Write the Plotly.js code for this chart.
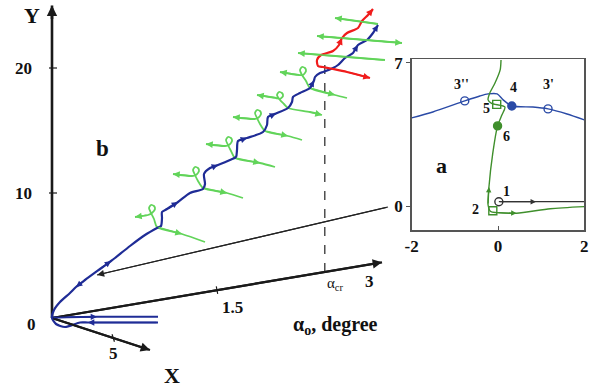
<!DOCTYPE html>
<html><head><meta charset="utf-8">
<script src="https://cdn.plot.ly/plotly-3.0.1.min.js"></script>
<style>html,body{margin:0;padding:0;background:#fff}#plot{width:616px;height:389px}</style>
</head><body><div id="plot"></div>
<script>
// ---------- Panel b (pseudo-3D): horizontal projection coordinate h, vertical = Y ----------
const Y_MAX = 25.0;
const Y_TICKS = [10, 20];
const ALPHA_MAX = 3;
const ALPHA_TICKS = [1.5];
const ALPHA_CR = 2.48;
const ALPHA_CR_TOP_Y = 20.5;
const X_MAX = 8;
const X_TICKS = [5];
const ALPHA_DIR = [1.1, 1.485];     // projection of one alpha unit
const X_DIR = [0.1225, -0.32];      // projection of one X unit

// blue trajectory
const BLUE_H = [1.06,0.36,0.28,0.13,0.04,0,0.02,0.08,0.18,0.24,0.33,0.48,0.59,0.63,0.78,0.93,1.05,1.09,1.10,1.10,1.15,1.26,1.38,1.51,1.53,1.52,1.58,1.66,1.78,1.84,1.85,1.86,1.95,2.11,2.15,2.16,2.24,2.36,2.40,2.41,2.48,2.58,2.62,2.63,2.68,2.71,2.81,2.86,2.93,3.01,3.06,3.15,3.21,3.26];
const BLUE_Y = [-0.36,-0.36,-0.36,-0.72,-0.48,0,0.64,1.28,2.0,2.48,3.04,3.92,4.56,4.8,5.76,6.64,7.2,7.36,8.0,8.48,8.72,9.28,10.0,10.32,10.72,11.52,12.0,12.24,12.64,12.88,13.44,14.16,14.4,14.88,15.44,16.08,16.36,16.8,17.28,17.68,18.0,18.4,19.0,19.28,19.6,19.68,20.0,20.24,20.8,21.2,21.84,22.24,22.8,23.44];
const BLUE_ARROWS = [[1,1],[9,-1],[12,1],[21,1],[27,1],[32,1],[36,1],[42,1],[50,1],[53,1]];
const BLUE2_H = [0.0, 0.45, 1.06];
const BLUE2_Y = [0.04, 0.1, 0.1];
const BLUE2_ARROWS = [[1,1]];

// red trajectory (beyond alpha_cr)
const RED_H = [3.18,2.95,2.81,2.71,2.66,2.65,2.69,2.81,2.87,2.90,2.95,3.06,3.10,3.16,3.21];
const RED_Y = [19.2,19.68,19.92,20.08,20.16,20.64,21.04,21.36,21.84,22.4,22.8,23.2,23.76,24.24,24.72];
const RED_ARROWS = [[0,-1],[9,1],[14,1]];

// green trajectories in the cross-sections
const GREEN_H = [
  [0.83,0.96,1.00,1.03,1.02,0.99,0.97,0.99,1.02,1.05,1.30,1.53],
  [1.21,1.40,1.44,1.47,1.46,1.43,1.41,1.43,1.46,1.51,1.75,1.91],
  [1.54,1.73,1.77,1.80,1.79,1.76,1.74,1.76,1.79,1.83,2.08,2.23],
  [1.81,2.02,2.06,2.09,2.08,2.05,2.03,2.05,2.08,2.13,2.36,2.50],
  [2.05,2.24,2.28,2.31,2.30,2.27,2.25,2.28,2.32,2.36,2.58,2.70],
  [2.28,2.47,2.51,2.54,2.53,2.50,2.48,2.50,2.54,2.58,2.83,2.95],
  [2.46,3.33],
  [2.65,3.50],
  [2.83,3.26]
];
const GREEN_Y = [
  [8.08,8.24,8.40,8.72,8.96,9.04,8.80,8.40,7.92,7.28,6.72,6.08],
  [11.52,11.36,11.44,11.76,12.0,12.08,11.84,11.44,10.96,10.4,10.0,9.6],
  [13.92,13.76,13.84,14.16,14.4,14.48,14.24,13.84,13.36,12.8,12.4,12.08],
  [16.08,15.92,16.0,16.32,16.56,16.64,16.4,16.0,15.52,14.96,14.56,14.24],
  [17.84,17.6,17.52,17.76,18.0,18.08,17.84,17.44,17.12,16.8,16.48,16.24],
  [19.68,19.44,19.44,19.76,20.0,20.08,19.84,19.44,18.96,18.4,17.84,17.6],
  [21.2,20.64],
  [22.56,22.0],
  [24.0,23.52]
];
const GREEN_ARROWS = [
  [[0,-1],[10,1]],[[0,-1],[10,1]],[[0,-1],[10,1]],[[0,-1],[10,1]],[[0,-1],[11,1]],[[0,-1],[10,1]],
  [[0,-1]],[[0,-1],[1,1]],[[0,-1]]
];
// pointer from inset plane to the trajectory
const POINTER_H = [3.36, 0.45];
const POINTER_Y = [8.88, 3.44];

// ---------- Panel a (inset, X-Y plane) ----------
const A_X_TICKS = [-2, 0, 2];
const A_Y_TICKS = [0, 7];
const A_BLUE_X = [-2.0,-1.51,-0.77,-0.42,-0.23,-0.02,0.12,0.32,0.81,1.16,1.60,2.0];
const A_BLUE_Y = [4.32,4.61,5.15,5.39,5.49,5.49,5.20,4.90,4.85,4.76,4.51,4.22];
const A_GREEN_X = [0.07,0.05,-0.07,-0.19,-0.23,-0.15,0.16,0.09,-0.01,-0.12,-0.21,-0.23,-0.17,-0.03,0.43,1.21,2.0];
const A_GREEN_Y = [7.15,6.66,6.02,5.54,5.20,5.03,4.85,4.46,3.93,2.61,0.95,0.07,-0.25,-0.30,-0.33,-0.11,-0.01];
const A_GREEN_ARROWS = [[10,-1],[14,1]];
const A_BLACK_X = [0.02, 0.88, 2.0];
const A_BLACK_Y = [0.23, 0.23, 0.23];
const A_BLACK_ARROWS = [[1,1]];
const A_POINT_LABELS = ['1','2',"3''","3'",'4','5','6'];
const A_POINT_X = [0.02,-0.12,-0.77,1.16,0.32,-0.03,-0.01];
const A_POINT_Y = [0.23,-0.21,5.15,4.76,4.90,4.98,3.93];
const A_LABEL_X = [0.19,-0.53,-0.84,1.16,0.35,-0.26,0.19];
const A_LABEL_Y = [0.71,-0.17,5.93,5.93,5.78,4.80,3.39];

// ---------- styles ----------
const BLUE = '#1f2c96', RED = '#f01c1c', GREEN = '#62d45a', AXC = '#1a1a1a';
const A_BLUE = '#2a4aa6', A_GREEN = '#3f8f2c';
const SERIF = 'Liberation Serif';

const traces = [];
const ann = [];
function line(h, y, color, width, opts) {
  opts = opts || {};
  traces.push({x: h, y: y, xaxis: opts.xa || 'x', yaxis: opts.ya || 'y', mode: 'lines',
    line: {color: color, width: width, dash: opts.dash || 'solid', shape: opts.spline ? 'spline' : 'linear', smoothing: 0.7},
    hoverinfo: 'skip', cliponaxis: opts.clip !== false});
}
function arrows(h, y, specs, color, width, size, xr, yr) {
  specs.forEach(function (s) {
    const i = s[0], d = s[1];
    ann.push({x: h[i], y: y[i], ax: h[i - d], ay: y[i - d], xref: xr || 'x', yref: yr || 'y',
      axref: xr || 'x', ayref: yr || 'y', text: '', showarrow: true, arrowhead: 2,
      arrowsize: size, arrowwidth: width, arrowcolor: color, standoff: 0});
  });
}
function txt(t, x, y, size, opts) {
  opts = opts || {};
  ann.push({x: x, y: y, xref: opts.xr || 'x', yref: opts.yr || 'y', text: t, showarrow: false,
    xanchor: opts.xanchor || 'center', yanchor: 'middle', xshift: opts.xshift || 0, yshift: opts.yshift || 0,
    font: {family: SERIF, size: size, color: opts.color || '#111', weight: opts.bold === false ? 'normal' : 'bold'}});
}
const projA = a => [a * ALPHA_DIR[0], a * ALPHA_DIR[1]];
const projX = x => [x * X_DIR[0], x * X_DIR[1]];

// ----- panel b axes -----
line([0, 0], [0, Y_MAX], AXC, 2.6);
arrows([0, 0], [Y_MAX - 1.2, Y_MAX], [[1, 1]], AXC, 2.6, 0.8);
Y_TICKS.forEach(v => line([-0.03, 0.05], [v, v], AXC, 1.2));
const aEnd = projA(ALPHA_MAX);
line([0, aEnd[0]], [0, aEnd[1]], AXC, 2.2);
arrows([0, aEnd[0]], [0, aEnd[1]], [[1, 1]], AXC, 2.2, 0.85);
ALPHA_TICKS.forEach(v => { const p = projA(v); line([p[0] - 0.007, p[0] + 0.007], [p[1] + 0.3, p[1] - 0.3], AXC, 1.2); });
const xEnd = projX(X_MAX);
line([0, xEnd[0]], [0, xEnd[1]], AXC, 2.2);
arrows([0, xEnd[0]], [0, xEnd[1]], [[1, 1]], AXC, 2.2, 0.85);
X_TICKS.forEach(v => { const p = projX(v); line([p[0] - 0.012, p[0] + 0.012], [p[1] + 0.3, p[1] - 0.3], AXC, 1.2); });
const crP = projA(ALPHA_CR);
line([crP[0], crP[0]], [crP[1], ALPHA_CR_TOP_Y], '#333', 1.3, {dash: 'dash'});
// pointer
line(POINTER_H, POINTER_Y, '#222', 1.1);
arrows(POINTER_H, POINTER_Y, [[1, 1]], '#222', 1.1, 1.3);

// ----- panel b curves -----
GREEN_H.forEach((gh, k) => { line(gh, GREEN_Y[k], GREEN, 1.8, {spline: true}); });
line(BLUE_H, BLUE_Y, BLUE, 2.2, {spline: true});
line(BLUE2_H, BLUE2_Y, BLUE, 1.8);
line(RED_H, RED_Y, RED, 2.2, {spline: true});
GREEN_H.forEach((gh, k) => arrows(gh, GREEN_Y[k], GREEN_ARROWS[k], GREEN, 1.5, 0.9));
arrows(BLUE_H, BLUE_Y, BLUE_ARROWS, BLUE, 1.4, 0.9);
arrows(BLUE2_H, BLUE2_Y, BLUE2_ARROWS, BLUE, 1.4, 0.9);
arrows(RED_H, RED_Y, RED_ARROWS, RED, 1.5, 0.9);

// ----- panel b labels -----
txt('Y', -0.20, 24.24, 22);
txt('20', -0.18, 20, 17, {xanchor: 'right'});
txt('10', -0.18, 10, 17, {xanchor: 'right'});
txt('0', -0.14, -0.5, 17, {xanchor: 'right'});
txt('b', 0.50, 13.6, 23);
txt('X', 1.2, -4.56, 22);
const x5 = projX(X_TICKS[0]);
txt(String(X_TICKS[0]), x5[0], x5[1], 17, {yshift: -15});
const a15 = projA(ALPHA_TICKS[0]);
txt(String(ALPHA_TICKS[0]), a15[0], a15[1], 17, {xshift: 15, yshift: -17});
txt(String(ALPHA_MAX), aEnd[0], aEnd[1], 17, {xshift: -13, yshift: -19});
txt('α<sub>cr</sub>', crP[0], crP[1], 15, {xshift: 11, yshift: -12, bold: false});
txt('α<sub>o</sub>, degree', 2.83, -0.56, 20);

// ----- panel a -----
line(A_BLUE_X, A_BLUE_Y, A_BLUE, 1.4, {xa: 'x2', ya: 'y2', spline: true});
line(A_GREEN_X, A_GREEN_Y, A_GREEN, 1.4, {xa: 'x2', ya: 'y2', spline: true});
line(A_BLACK_X, A_BLACK_Y, '#333', 1.3, {xa: 'x2', ya: 'y2'});
arrows(A_GREEN_X, A_GREEN_Y, A_GREEN_ARROWS, A_GREEN, 1.2, 0.9, 'x2', 'y2');
arrows(A_BLACK_X, A_BLACK_Y, A_BLACK_ARROWS, '#333', 1.2, 0.9, 'x2', 'y2');
const A_SYMBOLS = ['circle-open','square-open','circle-open','circle-open','circle','square-open','circle'];
const A_COLORS = ['#333', A_GREEN, A_BLUE, A_BLUE, A_BLUE, A_GREEN, A_GREEN];
traces.push({x: A_POINT_X, y: A_POINT_Y, xaxis: 'x2', yaxis: 'y2', mode: 'markers', hoverinfo: 'skip',
  marker: {symbol: A_SYMBOLS, size: 8, color: A_COLORS, line: {color: A_COLORS, width: 1.4}}});
A_POINT_LABELS.forEach((t, i) => txt(t, A_LABEL_X[i], A_LABEL_Y[i], 14, {xr: 'x2', yr: 'y2'}));
txt('a', -1.32, 2.02, 22, {xr: 'x2', yr: 'y2'});
txt('Y', -1.88, 8.27, 20, {xr: 'x2', yr: 'y2'});
txt('X', 2.25, -1.05, 20, {xr: 'x2', yr: 'y2'});

const layout = {
  width: 616, height: 389, margin: {l: 0, r: 0, t: 0, b: 0},
  paper_bgcolor: '#fff', plot_bgcolor: 'rgba(0,0,0,0)', showlegend: false,
  xaxis: {range: [-0.52, 5.64], visible: false, domain: [0, 1]},
  yaxis: {range: [-5.68, 25.44], visible: false, domain: [0, 1]},
  xaxis2: {domain: [411.7 / 616, 584.3 / 616], anchor: 'y2', range: [-2, 2], tickvals: A_X_TICKS,
    ticktext: A_X_TICKS.map(String), showgrid: false, zeroline: false, showline: true, mirror: true,
    linecolor: '#555', linewidth: 1.6, ticks: 'inside', ticklen: 4, tickcolor: '#555',
    tickfont: {family: SERIF, size: 17, color: '#111', weight: 'bold'}},
  yaxis2: {domain: [1 - 230 / 389, 1 - 59.3 / 389], anchor: 'x2', range: [-1.15, 7.18], tickvals: A_Y_TICKS,
    ticktext: A_Y_TICKS.map(String), showgrid: false, zeroline: false, showline: true, mirror: true,
    linecolor: '#555', linewidth: 1.6, ticks: 'outside', ticklen: 4, tickcolor: '#555',
    tickfont: {family: SERIF, size: 17, color: '#111', weight: 'bold'}},
  annotations: ann,
  hovermode: false
};
Plotly.newPlot('plot', traces, layout, {staticPlot: true, displayModeBar: false});
</script>
</body></html>
